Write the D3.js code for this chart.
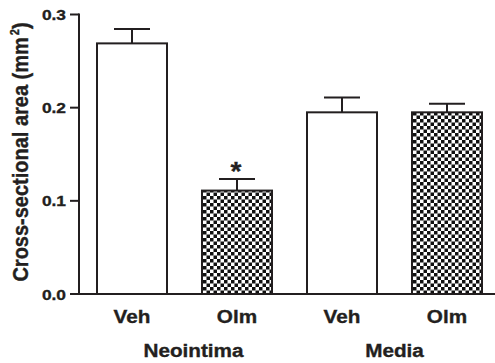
<!DOCTYPE html>
<html>
<head>
<meta charset="utf-8">
<script src="https://cdn.jsdelivr.net/npm/d3@7"></script>
<style>
  body { margin: 0; background: #fff; }
  svg text { font-family: "Liberation Sans", Arial, sans-serif; font-weight: bold; fill: #231f20; stroke: #231f20; stroke-width: 0.35px; }
</style>
</head>
<body>
<div id="chart"></div>
<script>
// data
var treatments = ["Veh", "Olm", "Veh", "Olm"];
var regions = ["Neointima", "Neointima", "Media", "Media"];
var means = [0.269, 0.111, 0.195, 0.195];
var sems = [0.0154, 0.0125, 0.016, 0.0093];
var marks = ["", "*", "", ""];
var regionNames = ["Neointima", "Media"];
var yTicks = [0.0, 0.1, 0.2, 0.3];

var width = 495, height = 363;
var ink = "#231f20";
var stretch = 1.12;   // the figure's text is a bit wide

var svg = d3.select("#chart").append("svg")
  .attr("width", width)
  .attr("height", height);

// checker pattern for Olm bars
var defs = svg.append("defs");
var pat = defs.append("pattern")
  .attr("id", "checker")
  .attr("patternUnits", "userSpaceOnUse")
  .attr("width", 7).attr("height", 7);
pat.append("rect").attr("width", 7).attr("height", 7).attr("fill", "#fff");
pat.append("rect").attr("width", 3.5).attr("height", 3.5).attr("fill", "#111");
pat.append("rect").attr("x", 3.5).attr("y", 3.5).attr("width", 3.5).attr("height", 3.5).attr("fill", "#111");

var axisX = 79, baseY = 294;

var y = d3.scaleLinear().domain([0, 0.3]).range([baseY, 14.5]);
var x = d3.scaleBand()
  .domain(d3.range(means.length))
  .range([97, 482])
  .paddingInner(1 / 3)
  .paddingOuter(0);

// error bars
var err = svg.append("g").attr("stroke", ink).attr("stroke-width", 2);
means.forEach(function (m, i) {
  var cx = x(i) + x.bandwidth() / 2;
  var top = y(m + sems[i]);
  err.append("line")
    .attr("x1", cx).attr("x2", cx)
    .attr("y1", y(m)).attr("y2", top);
  err.append("line")
    .attr("x1", cx - x.bandwidth() / 4 - 0.5).attr("x2", cx + x.bandwidth() / 4 + 0.5)
    .attr("y1", top).attr("y2", top);
});

// bars
svg.selectAll("rect.bar")
  .data(means)
  .enter()
  .append("rect")
  .attr("class", "bar")
  .attr("x", function (d, i) { return x(i); })
  .attr("y", function (d) { return y(d); })
  .attr("width", x.bandwidth())
  .attr("height", function (d) { return baseY - y(d); })
  .attr("fill", function (d, i) { return treatments[i] === "Olm" ? "url(#checker)" : "#fff"; })
  .attr("stroke", ink)
  .attr("stroke-width", 2);

// significance marks
svg.selectAll("text.mark")
  .data(marks)
  .enter()
  .append("text")
  .attr("class", "mark")
  .attr("transform", function (d, i) {
    var cx = x(i) + x.bandwidth() / 2 - 1;
    return "translate(" + cx + "," + (y(means[i] + sems[i]) + 1.5) + ") scale(" + stretch + ",1)";
  })
  .attr("text-anchor", "middle")
  .attr("font-size", "25px")
  .text(function (d) { return d; });

// axes
svg.append("line")
  .attr("x1", axisX).attr("x2", width)
  .attr("y1", baseY).attr("y2", baseY)
  .attr("stroke", ink).attr("stroke-width", 2);
svg.append("line")
  .attr("x1", axisX).attr("x2", axisX)
  .attr("y1", y(0.3) - 1).attr("y2", baseY + 1)
  .attr("stroke", ink).attr("stroke-width", 2);

var ticks = svg.selectAll("g.ytick")
  .data(yTicks)
  .enter()
  .append("g")
  .attr("class", "ytick")
  .attr("transform", function (d) { return "translate(" + axisX + "," + y(d) + ")"; });
ticks.append("line")
  .attr("x1", -9).attr("x2", 0)
  .attr("stroke", ink).attr("stroke-width", 2);
ticks.append("text")
  .attr("transform", "translate(-13,0) scale(" + stretch + ",1)")
  .attr("text-anchor", "end")
  .attr("dy", "0.36em")
  .attr("font-size", "15.5px")
  .text(function (d) { return d.toFixed(1); });

// y label
var ylab = svg.append("text")
  .attr("transform", "translate(28,152) scale(" + stretch + ",1) rotate(-90)")
  .attr("text-anchor", "middle")
  .attr("font-size", "20px");
ylab.append("tspan").text("Cross-sectional area (mm");
ylab.append("tspan").attr("font-size", "11px").attr("dx", "2").attr("dy", "-8").text("2");
ylab.append("tspan").attr("dy", "8").text(")");

// category labels
svg.selectAll("text.cat")
  .data(treatments)
  .enter()
  .append("text")
  .attr("class", "cat")
  .attr("transform", function (d, i) {
    return "translate(" + (x(i) + x.bandwidth() / 2) + ",322.5) scale(" + stretch + ",1)";
  })
  .attr("text-anchor", "middle")
  .attr("font-size", "18.5px")
  .text(function (d) { return d; });

// region labels, centred under their pair of bars
svg.selectAll("text.region")
  .data(regionNames)
  .enter()
  .append("text")
  .attr("class", "region")
  .attr("transform", function (d, k) {
    var idx = d3.range(regions.length).filter(function (i) { return regions[i] === d; });
    var cx = d3.mean(idx, function (i) { return x(i) + x.bandwidth() / 2; });
    if (k === 0) cx += 9; // the figure sets this one a little right
    return "translate(" + cx + ",356.5) scale(" + stretch + ",1)";
  })
  .attr("text-anchor", "middle")
  .attr("font-size", "18.5px")
  .text(function (d) { return d; });
</script>
</body>
</html>
